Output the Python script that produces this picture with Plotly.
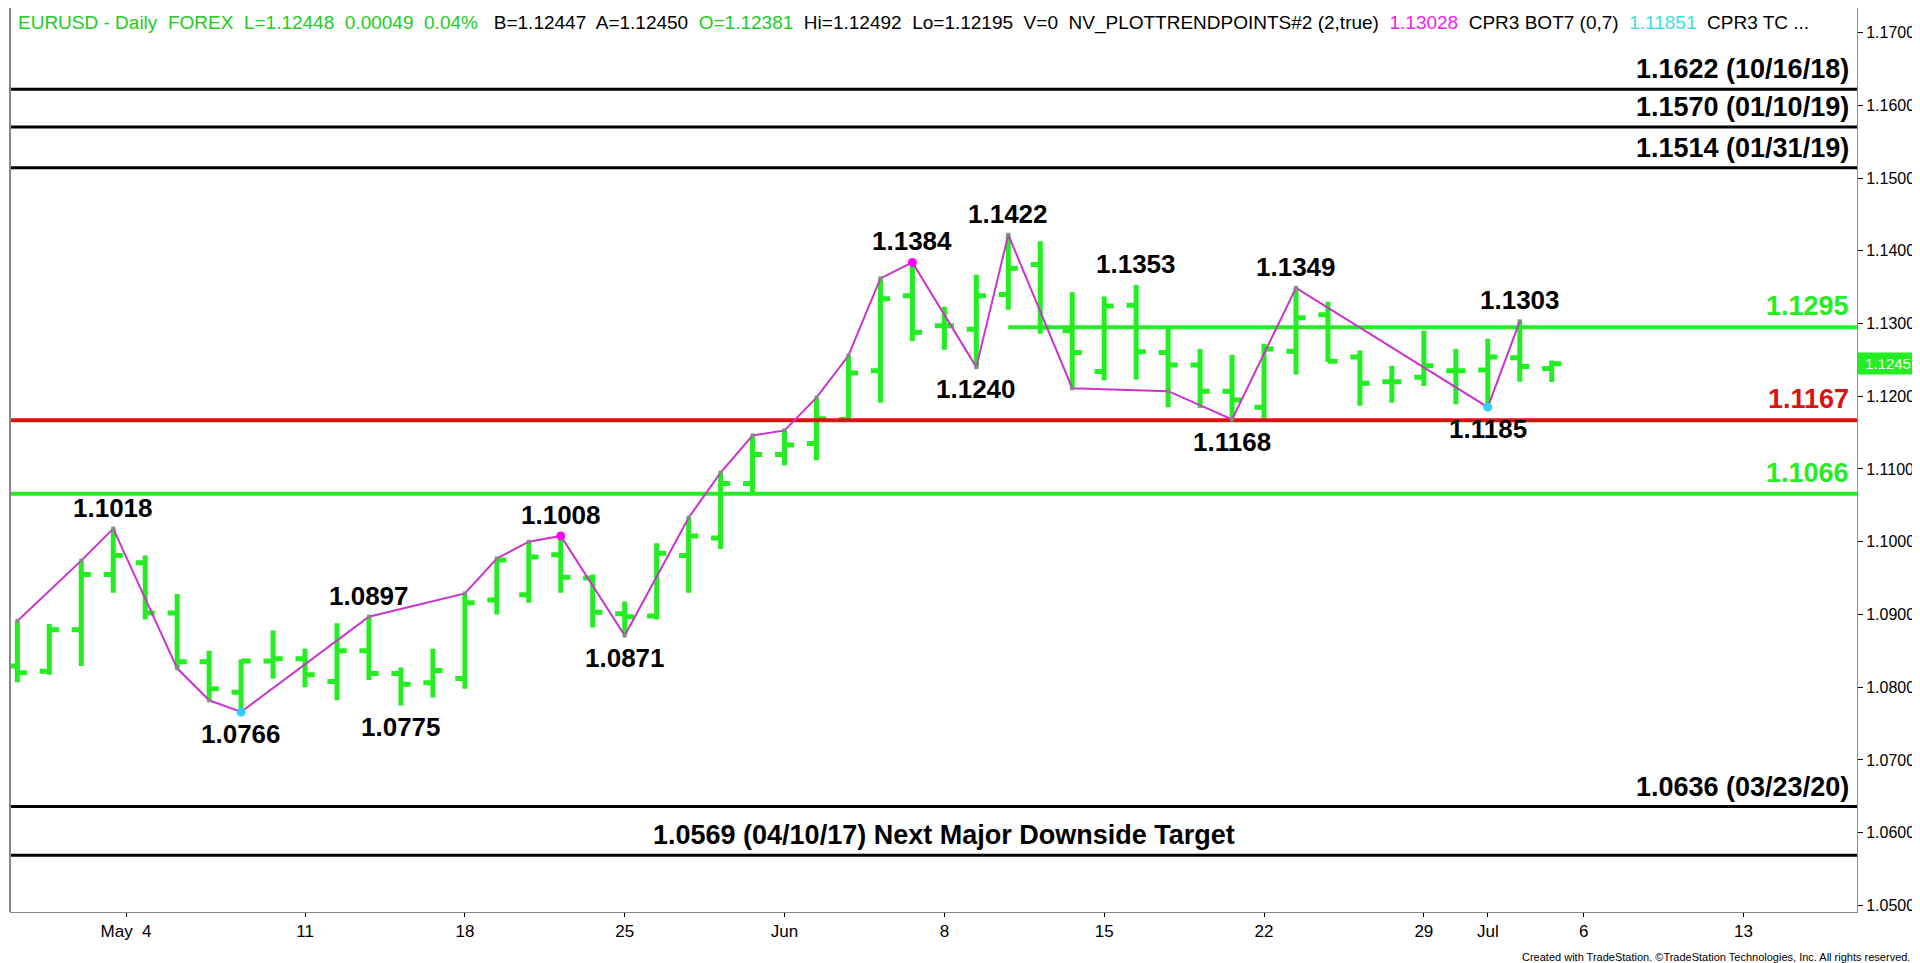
import plotly.graph_objs as go

# daily bars, index 0 = Apr 28 2020 ... 48 = Jul 3 2020
opens = [1.0829, 1.0822, 1.0879, 1.0955, 1.0971, 1.0902, 1.0835, 1.0793, 1.0836, 1.0839,
         1.0808, 1.0850, 1.0819, 1.0806, 1.0812, 1.0920, 1.0927, 1.0982, 1.0950, 1.0901,
         1.0898, 1.0981, 1.1005, 1.1080, 1.1120, 1.1135, 1.1168, 1.1235, 1.1338, 1.1297,
         1.1292, 1.1340, 1.1381, 1.1290, 1.1234, 1.1325, 1.1260, 1.1243, 1.1207, 1.1185,
         1.1262, 1.1312, 1.1254, 1.1220, 1.1226, 1.1235, 1.1236, 1.1253, 1.12381]
highs = [1.0891, 1.0887, 1.0974, 1.1018, 1.0981, 1.0928, 1.0850, 1.0838, 1.0878, 1.0853,
         1.0888, 1.0897, 1.0827, 1.0853, 1.0929, 1.0977, 1.1000, 1.1008, 1.0955, 1.0918,
         1.0998, 1.1033, 1.1095, 1.1146, 1.1153, 1.1198, 1.1256, 1.1362, 1.1384, 1.1323,
         1.1367, 1.1422, 1.1413, 1.1343, 1.1337, 1.1353, 1.1293, 1.1265, 1.1257, 1.1272,
         1.1349, 1.1330, 1.1263, 1.1242, 1.1290, 1.1265, 1.1279, 1.1303, 1.12492]
lows = [1.0807, 1.0817, 1.0829, 1.0930, 1.0893, 1.0826, 1.0782, 1.0766, 1.0812, 1.0800,
        1.0782, 1.0810, 1.0775, 1.0786, 1.0798, 1.0900, 1.0916, 1.0930, 1.0882, 1.0871,
        1.0893, 1.0930, 1.0990, 1.1066, 1.1105, 1.1112, 1.1167, 1.1191, 1.1276, 1.1264,
        1.1240, 1.1319, 1.1286, 1.1210, 1.1222, 1.1223, 1.1185, 1.1184, 1.1168, 1.1168,
        1.1230, 1.1247, 1.1187, 1.1191, 1.1214, 1.1189, 1.1185, 1.1220, 1.12195]
closes = [1.0820, 1.0879, 1.0955, 1.0981, 1.0902, 1.0835, 1.0798, 1.0836, 1.0839, 1.0817,
          1.0850, 1.0819, 1.0804, 1.0823, 1.0916, 1.0975, 1.0979, 1.0951, 1.0903, 1.0897,
          1.0984, 1.1008, 1.1080, 1.1120, 1.1133, 1.1169, 1.1232, 1.1334, 1.1288, 1.1297,
          1.1338, 1.1376, 1.1295, 1.1260, 1.1324, 1.1261, 1.1243, 1.1207, 1.1195, 1.1265,
          1.1308, 1.1248, 1.1218, 1.1220, 1.1242, 1.1235, 1.1254, 1.1241, 1.12448]

tick_idx = [3.4, 9, 14, 19, 24, 29, 34, 39, 44, 46, 49, 54]
tick_text = ["May  4", "11", "18", "25", "Jun", "8", "15", "22", "29", "Jul", "6", "13"]

# trend points line
zz_idx = [0, 2, 3, 5, 6, 7, 11, 14, 15, 16, 17, 19, 21, 22, 23, 24, 25, 26, 27, 28,
          30, 31, 33, 36, 38, 40, 46, 47]
zz_val = [1.0891, 1.0974, 1.1018, 1.0826, 1.0782, 1.0766, 1.0897, 1.0929, 1.0977, 1.1000,
          1.1008, 1.0871, 1.1033, 1.1095, 1.1146, 1.1153, 1.1198, 1.1256, 1.1362, 1.1384,
          1.1240, 1.1422, 1.1211, 1.1207, 1.1168, 1.1349, 1.1185, 1.1303]

# swing labels
hi_idx = [3, 11, 17, 28, 31, 35, 40, 47]
hi_val = [1.1018, 1.0897, 1.1008, 1.1384, 1.1422, 1.1353, 1.1349, 1.1303]
lo_idx = [7, 12, 19, 30, 38, 46]
lo_val = [1.0766, 1.0775, 1.0871, 1.1240, 1.1168, 1.1185]

black_levels = [1.1622, 1.1570, 1.1514, 1.0636]
black_labels = ["1.1622 (10/16/18)", "1.1570 (01/10/19)", "1.1514 (01/31/19)", "1.0636 (03/23/20)"]
target_level = 1.0569
target_label = "1.0569 (04/10/17) Next Major Downside Target"
green_levels = [1.1295, 1.1066]
red_level = 1.1167
last_price = 1.1245

GREEN = "#22EE22"
x0, x1 = -0.23, 57.55
FONT = "Liberation Sans, Arial"

fig = go.Figure()

for lv in black_levels + [target_level]:
    fig.add_trace(go.Scatter(x=[x0, x1], y=[lv, lv], mode="lines",
                             line=dict(color="black", width=3), hoverinfo="skip"))
fig.add_trace(go.Scatter(x=[31, x1], y=[green_levels[0]] * 2, mode="lines",
                         line=dict(color=GREEN, width=4), hoverinfo="skip"))
fig.add_trace(go.Scatter(x=[x0, x1], y=[green_levels[1]] * 2, mode="lines",
                         line=dict(color=GREEN, width=4), hoverinfo="skip"))
fig.add_trace(go.Scatter(x=[x0, x1], y=[red_level] * 2, mode="lines",
                         line=dict(color="#DD1111", width=4), hoverinfo="skip"))

fig.add_trace(go.Ohlc(x=list(range(len(opens))), open=opens, high=highs, low=lows, close=closes,
                      increasing=dict(line=dict(color=GREEN, width=5)),
                      decreasing=dict(line=dict(color=GREEN, width=5)),
                      tickwidth=0.3))

fig.add_trace(go.Scatter(x=zz_idx, y=zz_val, mode="lines+markers",
                         line=dict(color="#CC33CC", width=2),
                         marker=dict(color="#888888", size=4, symbol="square")))
fig.add_trace(go.Scatter(x=[28, 17], y=[1.1384, 1.1008], mode="markers",
                         marker=dict(color="#FF00FF", size=9)))
fig.add_trace(go.Scatter(x=[7, 46], y=[1.0766, 1.1185], mode="markers",
                         marker=dict(color="#33CCFF", size=9)))

ann = []
for i, v in zip(hi_idx, hi_val):
    ann.append(dict(x=i, y=v, text=f"{v:.4f}", yanchor="bottom", yshift=4))
for i, v in zip(lo_idx, lo_val):
    ann.append(dict(x=i, y=v, text=f"{v:.4f}", yanchor="top", yshift=-5))
for a in ann:
    a.update(showarrow=False, font=dict(family=FONT, size=26, color="black"))
    a["text"] = f"<b>{a['text']}</b>"

for lv, t in zip(black_levels, black_labels):
    ann.append(dict(x=57.35, y=lv, text=f"<b>{t}</b>", xanchor="right", yanchor="bottom",
                    yshift=3, showarrow=False, font=dict(family=FONT, size=27, color="black")))
ann.append(dict(x=29, y=target_level, text=f"<b>{target_label}</b>", yanchor="bottom", yshift=3,
                showarrow=False, font=dict(family=FONT, size=27, color="black")))
for lv, c in [(green_levels[0], GREEN), (green_levels[1], GREEN), (red_level, "#DD1111")]:
    ann.append(dict(x=57.35, y=lv, text=f"<b>{lv:.4f}</b>", xanchor="right", yanchor="bottom",
                    yshift=4, showarrow=False, font=dict(family=FONT, size=27, color=c)))

ann.append(dict(xref="paper", x=1.0, y=last_price, text=f"{last_price:.4f}", xanchor="left",
                showarrow=False, bgcolor=GREEN, font=dict(family=FONT, size=15, color="white"),
                borderpad=2, width=56))

header = ('<span style="color:#22CC22">EURUSD - Daily  FOREX  L=1.12448  0.00049  0.04%</span>'
          '   B=1.12447  A=1.12450  <span style="color:#22CC22">O=1.12381</span>'
          '  Hi=1.12492  Lo=1.12195  V=0  NV_PLOTTRENDPOINTS#2 (2,true)  '
          '<span style="color:#EE22EE">1.13028</span>  CPR3 BOT7 (0,7)  '
          '<span style="color:#44DDDD">1.11851</span>  CPR3 TC ...')
ann.append(dict(xref="paper", yref="paper", x=0.003, y=0.998, xanchor="left", yanchor="top",
                text=header, showarrow=False, font=dict(family=FONT, size=19, color="black")))
ann.append(dict(xref="paper", yref="paper", x=1.03, y=-0.05, xanchor="right", yanchor="middle",
                text="Created with TradeStation. ©TradeStation Technologies, Inc. All rights reserved.",
                showarrow=False, font=dict(family=FONT, size=11, color="black")))

fig.update_layout(
    width=1920, height=963, autosize=False,
    margin=dict(l=2, r=71, t=0, b=59),
    paper_bgcolor="white", plot_bgcolor="white",
    showlegend=False,
    annotations=ann,
    xaxis=dict(range=[x0, x1], tickvals=tick_idx, ticktext=tick_text, showgrid=False,
               zeroline=False, rangeslider=dict(visible=False), showline=True,
               linecolor="#888888", linewidth=1, ticks="outside", ticklen=4, tickcolor="black",
               tickfont=dict(family=FONT, size=17, color="black")),
    yaxis=dict(range=[1.0491, 1.17337], side="right", tick0=1.06, dtick=0.01, tickformat=".4f",
               showgrid=False, zeroline=False, showline=True, linecolor="#E07070", linewidth=1,
               ticks="outside", ticklen=5, tickcolor="black",
               tickfont=dict(family=FONT, size=16, color="black")),
    shapes=[dict(type="line", xref="paper", yref="paper", x0=0, x1=0, y0=0, y1=1,
                 line=dict(color="#888888", width=2))],
)

fig.write_html("out.html")
